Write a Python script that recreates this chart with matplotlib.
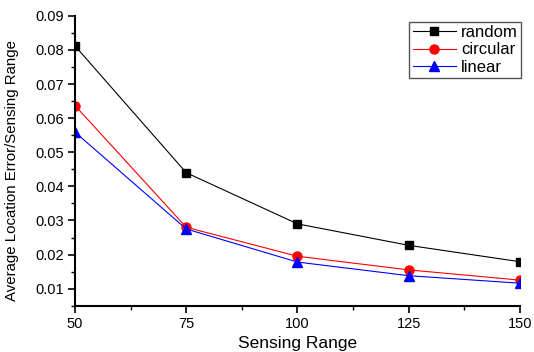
import matplotlib
matplotlib.use("Agg")
import matplotlib.pyplot as plt
from matplotlib.ticker import MultipleLocator

plt.rcParams['font.family'] = ['Liberation Sans', 'DejaVu Sans']

x = [50, 75, 100, 125, 150]
random_vals = [0.0812, 0.0440, 0.0290, 0.0227, 0.0179]
circular_vals = [0.0637, 0.0280, 0.0195, 0.0155, 0.0125]
linear_vals = [0.0559, 0.0275, 0.0178, 0.0138, 0.0116]
xticks = [50, 75, 100, 125, 150]
yticks = [0.01, 0.02, 0.03, 0.04, 0.05, 0.06, 0.07, 0.08, 0.09]

fig = plt.figure(figsize=(5.34, 3.52), dpi=100)
ax = fig.add_axes([0.1404, 0.1315, 0.8334, 0.8235])

ax.plot(x, random_vals, color='black', lw=0.8, marker='s', ms=6, label='random')
ax.plot(x, circular_vals, color='red', lw=0.8, marker='o', ms=6.5, label='circular')
ax.plot(x, linear_vals, color='blue', lw=0.8, marker='^', ms=7, label='linear')

ax.set_xlim(50, 150)
ax.set_ylim(0.005, 0.09)
ax.set_xticks(xticks)
ax.set_xticklabels([str(v) for v in xticks])
ax.set_yticks(yticks)
ax.set_yticklabels([f"{v:.2f}" for v in yticks])
ax.xaxis.set_minor_locator(MultipleLocator(12.5))
ax.yaxis.set_minor_locator(MultipleLocator(0.005))
ax.tick_params(which='major', direction='out', length=5, width=1.2, labelsize=10.5)
ax.tick_params(which='minor', direction='out', length=3, width=1.0)
ax.tick_params(axis='x', pad=3)
ax.tick_params(axis='y', pad=3)

for s in ['top', 'right']:
    ax.spines[s].set_visible(False)
for s in ['left', 'bottom']:
    ax.spines[s].set_linewidth(1.5)

ax.set_xlabel('Sensing Range', fontsize=12.5, labelpad=4)
ax.set_ylabel('Average Location Error/Sensing Range', fontsize=10.8)
ax.yaxis.set_label_coords(-0.126, 0.468)

leg = ax.legend(loc='upper right', bbox_to_anchor=(1.003, 0.98), fontsize=12,
                handlelength=2.6, handletextpad=0.3, labelspacing=0.15,
                borderpad=0.2, fancybox=False, framealpha=1, borderaxespad=0)
leg.get_frame().set_edgecolor('#555555')
leg.get_frame().set_linewidth(1.0)

fig.savefig('out.png', dpi=100)
